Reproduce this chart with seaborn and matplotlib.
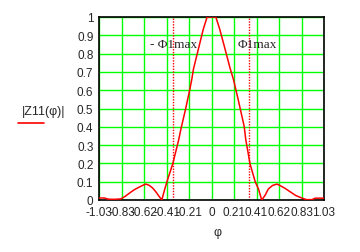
import numpy as np
import matplotlib
matplotlib.use("Agg")
import matplotlib.pyplot as plt
import seaborn as sns

# ---- data ----
phi = [-1.03, -0.98, -0.95, -0.92, -0.88, -0.83, -0.79, -0.75, -0.71, -0.67,
       -0.63, -0.60, -0.57, -0.54, -0.51, -0.48, -0.455, -0.43, -0.40, -0.355,
       -0.30, -0.28, -0.24, -0.20, -0.18, -0.165, -0.12, -0.075, -0.04, 0.0,
       0.04, 0.075, 0.124, 0.17, 0.20, 0.24, 0.30, 0.313, 0.353, 0.40,
       0.43, 0.46, 0.49, 0.52, 0.56, 0.60, 0.63, 0.67, 0.72, 0.77,
       0.83, 0.87, 0.92, 0.95, 0.98, 1.03]
z11 = [0.011, 0.011, 0.005, 0.004, 0.004, 0.006, 0.02, 0.038, 0.055, 0.068,
       0.08, 0.087, 0.08, 0.066, 0.045, 0.02, 0.0, 0.055, 0.115, 0.197,
       0.33, 0.388, 0.49, 0.60, 0.661, 0.716, 0.825, 0.934, 1.0, 1.0,
       1.0, 0.934, 0.825, 0.72, 0.661, 0.56, 0.40, 0.333, 0.197, 0.10,
       0.06, 0.0, 0.025, 0.06, 0.08, 0.087, 0.078, 0.065, 0.045, 0.025,
       0.01, 0.002, 0.002, 0.01, 0.01, 0.01]
phi1max = [-0.348, 0.346]
marker_labels = ["- Φ1max", "Φ1max"]
xticks = [-1.03, -0.824, -0.618, -0.412, -0.206, 0.0, 0.206, 0.412, 0.618, 0.824, 1.03]
xtick_labels = ["-1.03", "-0.83", "-0.62", "-0.41", "-0.21", "0", "0.21", "0.41", "0.62", "0.83", "1.03"]
yticks = [0.0, 0.1, 0.2, 0.3, 0.4, 0.5, 0.6, 0.7, 0.8, 0.9, 1.0]
ytick_labels = ["0", "0.1", "0.2", "0.3", "0.4", "0.5", "0.6", "0.7", "0.8", "0.9", "1"]

sns.set_style("white")
plt.rcParams['font.family'] = ['Liberation Sans', 'DejaVu Sans']

fig = plt.figure(figsize=(3.6, 2.53), dpi=100)
ax = fig.add_axes([99/360, 1-201/253, 225/360, 183/253])

sns.lineplot(x=phi, y=z11, color='red', lw=1.1, ax=ax, zorder=3)

for v in phi1max:
    ax.axvline(v, color='red', lw=1, ls=(0, (1, 1)), zorder=2)

ax.text(-0.56, 0.852, marker_labels[0], family=['Liberation Serif', 'DejaVu Serif'],
        fontsize=9.5, va='center', ha='left')
ax.text(0.24, 0.852, marker_labels[1], family=['Liberation Serif', 'DejaVu Serif'],
        fontsize=9.5, va='center', ha='left')

ax.set_xlim(-1.03, 1.03)
ax.set_ylim(0, 1)
ax.set_xticks(xticks)
ax.set_xticklabels(xtick_labels)
ax.set_yticks(yticks)
ax.set_yticklabels(ytick_labels)
ax.tick_params(length=0, labelsize=8.5, pad=4)
ax.grid(True, color='#00ff00', lw=1)
ax.set_axisbelow(True)
for s in ax.spines.values():
    s.set_color('black')
    s.set_linewidth(1.2)
    s.set_visible(True)

fig.text(44/360, 1-112/253, "|Z11(φ)|", ha='center', va='center', fontsize=9)
fig.add_artist(plt.Line2D([18/360, 44/360], [1-123.5/253, 1-123.5/253], color='red', lw=1.2))
fig.text(218/360, 1-233/253, "φ", ha='center', va='center', fontsize=9)

fig.savefig("out.png", dpi=100)
